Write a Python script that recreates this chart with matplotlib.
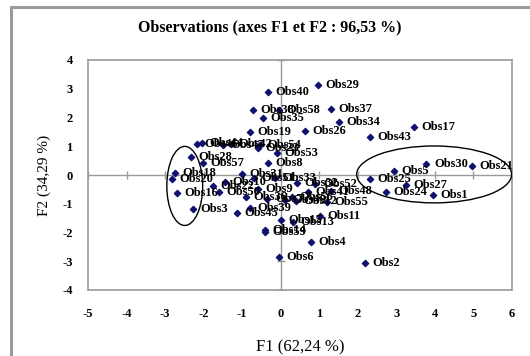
import matplotlib
matplotlib.use("Agg")
import matplotlib.pyplot as plt
from matplotlib.patches import Ellipse, Rectangle

names = ["Obs1", "Obs2", "Obs3", "Obs4", "Obs5", "Obs6", "Obs7", "Obs8", "Obs9", "Obs10",
         "Obs11", "Obs12", "Obs13", "Obs14", "Obs15", "Obs16", "Obs17", "Obs18", "Obs19", "Obs20",
         "Obs21", "Obs22", "Obs23", "Obs24", "Obs25", "Obs26", "Obs27", "Obs28", "Obs29", "Obs30",
         "Obs31", "Obs32", "Obs33", "Obs34", "Obs35", "Obs36", "Obs37", "Obs38", "Obs39", "Obs40",
         "Obs41", "Obs42", "Obs43", "Obs44", "Obs45", "Obs46", "Obs47", "Obs48", "Obs49", "Obs50",
         "Obs51", "Obs52", "Obs53", "Obs54", "Obs55", "Obs56", "Obs57", "Obs58", "Obs59"]
f1 = [3.95, 2.18, -2.28, 0.78, 2.93, -0.05, -0.35, -0.33, -0.60, -1.45,
      1.01, 0.40, 0.31, -0.41, 0.00, -2.69, 3.45, -2.75, -0.80, -2.82,
      4.95, -1.76, -0.60, 2.72, 2.31, 0.62, 3.24, -2.33, 0.96, 3.78,
      -1.00, 0.41, -0.15, 1.50, -0.47, -0.90, 1.30, -0.73, -0.80, -0.33,
      0.70, -1.30, 2.31, -2.05, -1.14, -2.18, -1.50, 1.30, 0.10, -1.60,
      -0.70, 0.90, -0.10, -0.54, 1.20, 0.28, -2.02, -0.05, -0.41]
f2 = [-0.70, -3.06, -1.18, -2.33, 0.14, -2.85, -0.85, 0.42, -0.50, -0.25,
      -1.43, -0.90, -1.63, -1.91, -1.55, -0.63, 1.67, 0.07, 1.50, -0.14,
      0.33, -0.38, 0.95, -0.59, -0.14, 1.53, -0.35, 0.63, 3.13, 0.38,
      0.05, -0.28, -0.10, 1.84, 1.98, -0.75, 2.30, 2.26, -1.15, 2.89,
      -0.60, 1.08, 1.32, 1.10, -1.32, 1.08, 1.05, -0.55, -0.87, -0.60,
      -0.10, -0.30, 0.75, 1.04, -0.95, -0.77, 0.42, 2.25, -1.98]

x_ticks = [-5, -4, -3, -2, -1, 0, 1, 2, 3, 4, 5, 6]
y_ticks = [-4, -3, -2, -1, 0, 1, 2, 3, 4]

title = "Observations (axes F1 et F2 : 96,53 %)"
xlabel = "F1 (62,24 %)"
ylabel = "F2 (34,29 %)"

plt.rcParams['font.family'] = ['Liberation Serif', 'DejaVu Serif']
plt.rcParams['axes.unicode_minus'] = False

fig = plt.figure(figsize=(5.30, 3.56), dpi=100)
fig.patches.append(Rectangle((11 / 530, -0.1), 1.2, 1 - 7 / 356 + 0.1, transform=fig.transFigure,
                             fill=False, edgecolor='#9a9a9a', linewidth=2.2, zorder=0))
ax = fig.add_axes([88 / 530, 1 - 290 / 356, (512 - 88) / 530, (290 - 60) / 356])

ax.set_xlim(x_ticks[0], x_ticks[-1])
ax.set_ylim(y_ticks[0], y_ticks[-1])
for s in ax.spines.values():
    s.set_color('#9a9a9a')
    s.set_linewidth(1.2)
ax.axhline(0, color='#9a9a9a', lw=1.0, zorder=1)
ax.axvline(0, color='#9a9a9a', lw=1.0, zorder=1)
ax.plot(x_ticks, [0] * len(x_ticks), ls='none', marker='|', ms=6, mew=1.0, color='#9a9a9a', zorder=1)
ax.plot([0] * len(y_ticks), y_ticks, ls='none', marker='_', ms=6, mew=1.0, color='#9a9a9a', zorder=1)

ax.set_xticks(x_ticks)
ax.set_yticks(y_ticks)
ax.tick_params(axis='x', length=0, labelsize=9, pad=13)
ax.tick_params(axis='y', length=0, labelsize=9, pad=11)
for lab in ax.get_xticklabels() + ax.get_yticklabels():
    lab.set_fontweight('bold')

ax.scatter(f1, f2, marker='D', s=10, color='#101070', zorder=3)
for n, x, y in zip(names, f1, f2):
    ax.annotate(n, (x, y), xytext=(5.5, 0), textcoords='offset points', va='center', ha='left',
                fontsize=9, fontweight='bold', color='black', zorder=4)

ax.add_patch(Ellipse((-2.49, -0.38), 0.93, 2.75, fill=False, edgecolor='black', lw=1.0, zorder=5))
ax.add_patch(Ellipse((3.98, 0.02), 4.02, 1.98, fill=False, edgecolor='black', lw=1.0, zorder=5))

ax.set_xlabel(xlabel, fontsize=12, labelpad=14)
ax.set_ylabel(ylabel, fontsize=11, labelpad=8)
fig.text(270 / 530, 1 - 27 / 356, title, ha='center', va='center', fontsize=11.5, fontweight='bold')

fig.savefig("out.png", dpi=100)
